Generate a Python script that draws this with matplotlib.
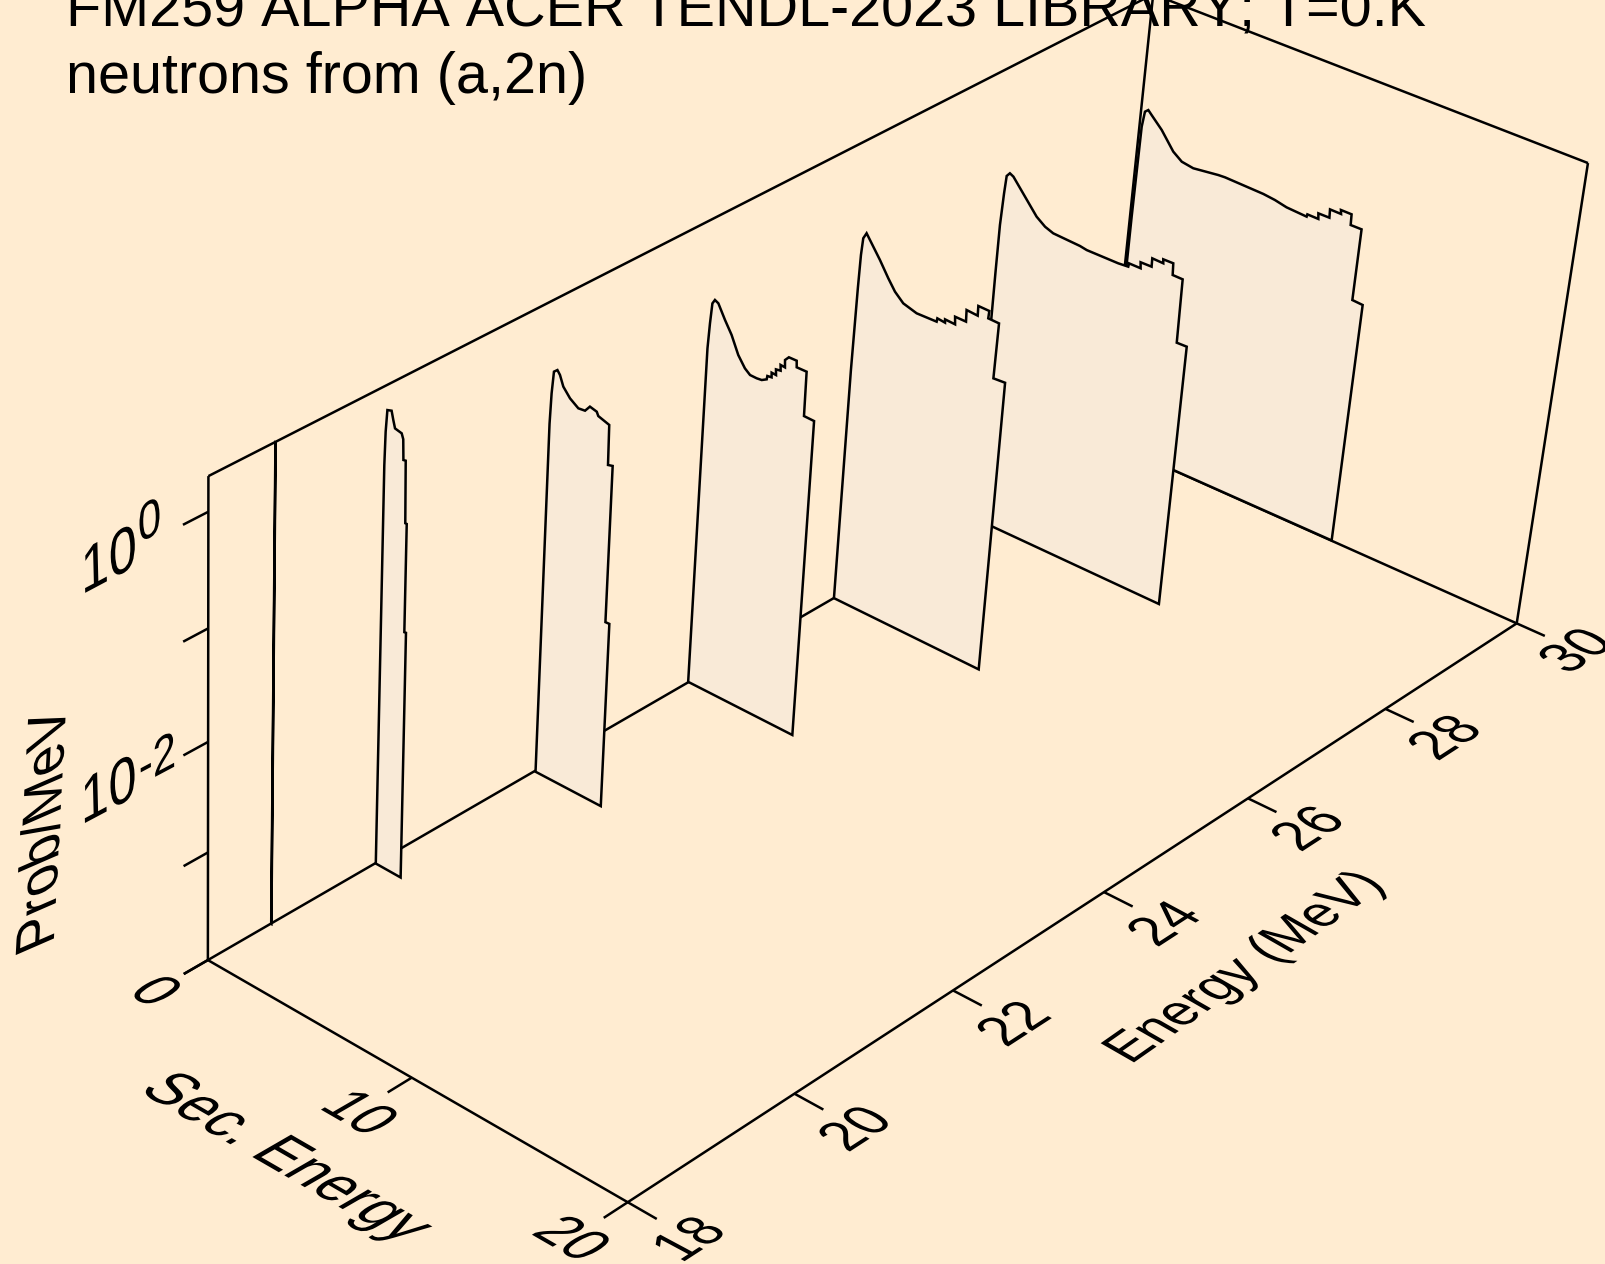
import numpy as np
import matplotlib
matplotlib.use('Agg')
import matplotlib.pyplot as plt
from matplotlib.patheffects import AbstractPathEffect
from matplotlib.transforms import Affine2D

plt.rcParams['font.family'] = ['Liberation Sans', 'DejaVu Sans']
plt.rcParams['text.kerning_factor'] = 6

# View of the (energy, sec. energy, log10 prob) box on the page
CAMERA = np.array([[120.995298677, 26.352023637, -3.538935033, -1907.25753753],
                   [-52.033812641, 11.971254554, -162.684099055, 1601.281602139],
                   [0.016606183, -0.003841276, -0.017802467, 1.0]])
BG = '#FFECD1'
FILL = '#F9EAD7'
LW = 1.8

# Spectra: sec. energy (MeV) and log10(prob/MeV)
s18 = [0.02, 0.03, 0.03, 0.02]
z18 = [-4, -4, 0.3, 0.3]
s20 = [0.02,0.02,0.02,0.02,0.05,0.11,0.31,0.4,0.49,0.81,0.89,0.92,1.03,1.08,1.15,1.16,1.24,1.27]
z20 = [-4.001,-1.867,-0.726,-0.381,-0.089,0.102,0.114,0.042,-0.022,-0.036,-0.08,-0.256,-0.252,-0.791,-0.791,-1.749,-1.747,-4.004]
s22 = [0.02,0.02,0.02,0.02,0.06,0.13,0.29,0.42,0.6,0.94,1.35,1.67,1.89,2.22,2.3,2.83,2.86,3.08,3.09,3.28,3.29]
z22 = [-4.007,-1.967,-1.509,-0.786,-0.512,-0.315,-0.287,-0.319,-0.406,-0.48,-0.532,-0.525,-0.47,-0.486,-0.517,-0.549,-0.9,-0.889,-2.299,-2.297,-4.008]
s24 = [0.02,0.02,0.02,0.02,0.07,0.13,0.24,0.41,0.77,1.12,1.49,1.84,2.1,2.42,2.66,2.89,2.91,3.11,3.1,3.31,3.29,3.51,3.49,3.7,3.68,3.85,4.22,4.24,4.71,4.73,5.21,5.23]
z24 = [-3.991,-1.668,-1.238,-0.86,-0.63,-0.446,-0.406,-0.422,-0.541,-0.645,-0.794,-0.884,-0.922,-0.924,-0.919,-0.893,-0.861,-0.856,-0.815,-0.818,-0.769,-0.762,-0.712,-0.716,-0.652,-0.613,-0.612,-0.669,-0.668,-1.064,-1.067,-3.998]
s26 = [0.02,0.02,0.02,0.06,0.09,0.14,0.28,0.46,1.0,1.46,1.82,2.25,2.91,3.87,3.89,4.26,4.25,4.73,4.7,5.22,5.2,5.73,5.72,6.24,6.22,6.73,6.7,7.25,7.25]
z26 = [-3.997,-3.036,-1.804,-1.037,-0.73,-0.574,-0.517,-0.563,-0.701,-0.831,-0.923,-0.994,-1.03,-1.026,-0.994,-1.002,-0.973,-0.978,-0.911,-0.912,-0.808,-0.815,-0.728,-0.73,-0.798,-0.801,-1.304,-1.297,-4.01]
s28 = [0.02,0.02,0.02,0.03,0.09,0.14,0.28,0.46,1.09,1.72,2.16,2.57,3.87,4.2,5.71,6.18,6.2,6.75,6.72,7.24,7.23,7.75,7.73,8.2,8.23,8.7,8.75,9.22,9.27]
z28 = [-4,-1.971,-1.607,-1.165,-0.865,-0.7,-0.664,-0.681,-0.816,-0.951,-1.009,-1.037,-1.049,-1.06,-1.059,-1.051,-1.019,-1.019,-0.966,-0.964,-0.888,-0.891,-0.856,-0.854,-0.959,-0.96,-1.542,-1.539,-4.002]
s30 = [0.08,0.08,0.1,0.11,0.19,0.34,0.52,1.07,1.72,2.17,2.74,3.94,4.26,6.11,6.67,7.24,8.2,8.22,8.74,8.71,9.23,9.21,9.73,9.7,10.2,10.22,10.73,10.73,11.22,11.22]
z30 = [-4,-1.784,-1.208,-0.923,-0.776,-0.749,-0.782,-0.88,-1.033,-1.093,-1.11,-1.079,-1.075,-1.084,-1.096,-1.119,-1.129,-1.106,-1.107,-1.057,-1.056,-0.98,-0.981,-0.946,-0.946,-1.044,-1.043,-1.706,-1.712,-3.997]

SLICES = [(18.74, s18, z18), (20, s20, z20), (22, s22, z22), (24, s24, z24),
          (26, s26, z26), (28, s28, z28), (30, s30, z30)]
E_TICKS = [18, 20, 22, 24, 26, 28, 30]
S_TICKS = [0, 10, 20]
Z_TICKS = [0, -1, -2, -3, -4]
Z_BOTTOM = -4
Z_TOP = 0.3


class Skew(AbstractPathEffect):
    # leans the glyphs so the labels look like they lie on the box faces
    def __init__(self, k):
        super().__init__()
        self.k = k

    def draw_path(self, renderer, gc, tpath, affine, rgbFace=None):
        shear = Affine2D(np.array([[1, self.k, 0], [0, 1, 0], [0, 0, 1]], float))
        renderer.draw_path(gc, tpath, shear + affine, rgbFace)


def project(e, s, z):
    e, s, z = np.broadcast_arrays(e, s, z)
    pts = CAMERA @ np.vstack([e.ravel(), s.ravel(), z.ravel(), np.ones(e.size)])
    return pts[0] / pts[2], pts[1] / pts[2]


def seg(a, b):
    x, y = project(*np.array([a, b]).T)
    ax.plot(x, y, color='k', lw=LW, solid_capstyle='butt', clip_on=False)


def label(x, y, txt, size, angle, k):
    t = ax.text(x, y, txt, fontsize=size, rotation=angle, ha='center', va='center', rotation_mode='anchor')
    t.set_path_effects([Skew(k)])


fig = plt.figure(figsize=(16.05, 12.64), dpi=100, facecolor=BG)
ax = fig.add_axes([0, 0, 1, 1])
ax.set_xlim(0, 1605)
ax.set_ylim(1264, 0)
ax.axis('off')

ax.text(66, 26, 'FM259 ALPHA ACER TENDL-2023 LIBRARY; T=0.K', fontsize=41.45, va='baseline')
ax.text(66, 93, 'neutrons from (a,2n)', fontsize=41.45, va='baseline')

# box edges
seg((18, 0, Z_BOTTOM), (30, 0, Z_BOTTOM))
seg((18, 0, Z_BOTTOM), (18, 20, Z_BOTTOM))
seg((18, 20, Z_BOTTOM), (30, 20, Z_BOTTOM))
seg((30, 0, Z_BOTTOM), (30, 20, Z_BOTTOM))
seg((18, 0, Z_BOTTOM), (18, 0, Z_TOP))
seg((30, 0, Z_BOTTOM), (30, 0, Z_TOP))
seg((30, 20, Z_BOTTOM), (30, 20, Z_TOP))
seg((18, 0, Z_TOP), (30, 0, Z_TOP))
seg((30, 0, Z_TOP), (30, 20, Z_TOP))

# ticks and labels
for e in E_TICKS:
    seg((e, 20, Z_BOTTOM), (e, 21.3, Z_BOTTOM))
    x, y = project(e, 22.95, Z_BOTTOM)
    label(x[0] + 4, y[0] - 4, str(e), 37, 33, -0.55)
for s, dx, dy in zip(S_TICKS, [-4, -4, -8], [-5, -3, -4]):
    seg((18, s, Z_BOTTOM), (17.72, s, Z_BOTTOM))
    x, y = project(17.33, s, Z_BOTTOM)
    label(x[0] + dx, y[0] + dy, str(s), 38, -30, 0.577)
for z in Z_TICKS:
    seg((18, 0, z), (17.72, 0, z))
for z, exp, edx, edy in [(0, '0', -64, 15), (-2, '-2', -56, 23)]:
    x, y = project(18, 0, z)
    label(x[0] - 106, y[0] + 55, '10', 41, 28, 0.5)
    label(x[0] + edx, y[0] + edy, exp, 34, 28, 0.5)

label(277, 1155, 'Sec. Energy', 40.5, -30, 0.577)
label(1251, 964, 'Energy (MeV)', 36.5, 35, -0.47)
label(46, 822, 'Prob/MeV', 39, 87, -0.5)

# spectra, back to front
for i, (e, s, z) in enumerate(reversed(SLICES)):
    x, y = project(e, np.array(s), np.array(z))
    ax.fill(x, y, facecolor=FILL, edgecolor='k', lw=LW, zorder=3 + i, joinstyle='miter')

fig.savefig('out.png', facecolor=BG)
